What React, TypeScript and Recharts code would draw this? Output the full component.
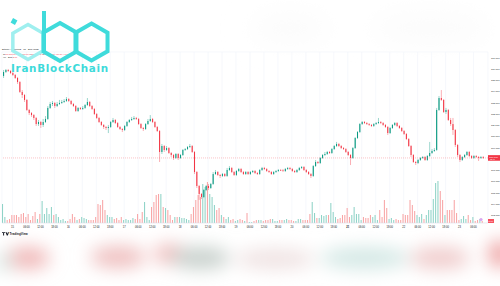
import React from 'react';
import { ComposedChart, Bar, Cell, XAxis, YAxis, CartesianGrid, ReferenceLine } from 'recharts';

// BTCUSDT 1h candles (open of each candle = previous close)
const firstOpen = 115380;
const closes = [
  115730, 115910, 115820, 115640, 115470, 115200, 114840, 113960, 113690, 113250,
  112360, 112090, 111910, 111650, 111110, 111290, 111030, 111290, 111560, 112540,
  112890, 112980, 112710, 112890, 112980, 113070, 113160, 113330, 113160, 112890,
  112710, 112270, 112540, 112450, 112540, 112800, 113070, 112710, 112450, 112000,
  111650, 111290, 111030, 110850, 110760, 110850, 111290, 111470, 111200, 110850,
  110670, 110580, 110940, 111290, 111470, 111560, 111650, 111560, 111110, 110760,
  110670, 111110, 111380, 111560, 111290, 110850, 110490, 108630, 109160, 108810,
  108980, 108540, 108360, 108100, 108450, 108100, 108360, 108810, 108890, 109070,
  109160, 108630, 106850, 105610, 104900, 104630, 105250, 105610, 105430, 105790,
  106670, 106850, 106590, 106500, 106670, 106500, 107030, 107210, 106850, 106590,
  106940, 107120, 106850, 106670, 106850, 106670, 106850, 106940, 106760, 106670,
  107030, 107210, 107120, 106940, 106850, 106670, 106850, 106940, 107030, 107000,
  106940, 107120, 107210, 107120, 106940, 106850, 107030, 107210, 107300, 107030,
  106850, 106670, 106500, 107380, 107740, 107650, 108100, 108360, 108450, 108630,
  108540, 108890, 109160, 109340, 109160, 108980, 108890, 108630, 108360, 108100,
  108980, 109870, 110400, 111110, 111290, 111200, 111110, 111030, 110940, 111110,
  111200, 111290, 111200, 111030, 110850, 110310, 110760, 111030, 111200, 110940,
  110760, 110490, 110230, 109780, 109160, 108360, 107740, 107650, 107920, 108100,
  108180, 107920, 108270, 108540, 108720, 108810, 112360, 113420, 113250, 112180,
  112360, 111470, 111110, 110580, 109250, 108360, 107920, 108180, 108360, 108630,
  108270, 108100, 108270, 108180, 108100, 108180, 108100,
];
const highs = [
  115910, 116000, 116000, 115910, 115730, 115550, 115290, 114930, 114130, 113780,
  113330, 112450, 112180, 112000, 111740, 111470, 111380, 111560, 111820, 112710,
  113070, 113160, 113070, 113070, 113250, 113250, 113330, 113510, 113420, 113250,
  112980, 112800, 112620, 112620, 112710, 112890, 113420, 113160, 112800, 112540,
  112090, 111740, 111380, 111110, 110940, 111030, 111380, 111650, 111560, 111290,
  110940, 110760, 111030, 111380, 111560, 111740, 111820, 111740, 111650, 111200,
  110850, 111200, 111560, 111910, 111650, 111380, 110940, 110580, 109340, 109250,
  109160, 109070, 108630, 108450, 108540, 108540, 108450, 108890, 108980, 109160,
  109340, 109250, 108720, 106940, 105700, 104990, 105340, 105700, 105790, 105880,
  106850, 107030, 106940, 106670, 106760, 106760, 107210, 107380, 107300, 106940,
  107030, 107210, 107210, 106940, 106940, 106940, 106940, 107030, 107030, 106850,
  107120, 107300, 107300, 107210, 107030, 106940, 106940, 107030, 107120, 107120,
  107120, 107210, 107300, 107300, 107210, 107030, 107120, 107300, 107380, 107380,
  107120, 106940, 106760, 107470, 107920, 107830, 108180, 108450, 108630, 108720,
  108720, 108980, 109250, 109520, 109430, 109250, 109070, 108980, 108720, 108450,
  109070, 109960, 110490, 111200, 111380, 111380, 111290, 111200, 111110, 111200,
  111290, 111650, 111380, 111290, 111110, 110940, 110850, 111110, 111290, 111290,
  111030, 110850, 110580, 110310, 109870, 109250, 108450, 107830, 108010, 108180,
  108270, 108270, 108360, 109520, 108890, 108980, 112540, 113600, 114130, 113330,
  112540, 112450, 111650, 111650, 110670, 109340, 108450, 108270, 108450, 108720,
  108720, 108360, 108360, 108360, 108270, 108270, 108270,
];
const lows = [
  115200, 115640, 115730, 115550, 115380, 115110, 114670, 113870, 113420, 113070,
  112270, 111910, 111740, 111470, 110940, 110940, 110760, 110850, 111200, 111470,
  112450, 112710, 112540, 112620, 112800, 112890, 112980, 113070, 113070, 112800,
  112620, 112180, 112180, 112360, 112360, 112450, 112710, 112620, 112360, 111910,
  111560, 111200, 110940, 110670, 110580, 110310, 110760, 111200, 111110, 110760,
  110580, 110400, 110490, 110850, 111200, 111380, 111470, 111470, 111030, 110670,
  110490, 110580, 111030, 111290, 111200, 110760, 110400, 107740, 108450, 108630,
  108720, 108450, 108180, 107920, 108010, 107920, 108010, 108270, 108720, 108810,
  108980, 108540, 106670, 105430, 104370, 104450, 104540, 105160, 105250, 105340,
  105700, 106590, 106500, 106320, 106410, 106410, 106410, 106940, 106760, 106500,
  106500, 106850, 106760, 106590, 106590, 106590, 106590, 106760, 106670, 106590,
  106590, 106940, 107030, 106850, 106760, 106590, 106590, 106760, 106850, 106940,
  106850, 106850, 107030, 107030, 106850, 106760, 106760, 106940, 107120, 106940,
  106760, 106590, 106320, 106410, 107300, 107560, 107560, 108010, 108270, 108360,
  108450, 108450, 108810, 109070, 109070, 108890, 108810, 108540, 108270, 107470,
  108010, 108890, 109780, 110310, 111030, 111110, 111030, 110940, 110850, 110850,
  111030, 111110, 111110, 110940, 110760, 110140, 110230, 110670, 110940, 110850,
  110670, 110400, 110140, 109690, 109070, 108180, 107650, 107470, 107560, 107830,
  108010, 107830, 107830, 108180, 108450, 108630, 108720, 112270, 113160, 112090,
  112000, 111380, 110940, 110140, 109070, 108180, 107740, 107830, 108090, 108270,
  108180, 108010, 108010, 108100, 107830, 108010, 108010,
];
const volumes = [
  1900, 600, 300, 400, 800, 800, 800, 600, 900, 1000,
  600, 900, 300, 700, 1100, 400, 900, 2200, 900, 1500,
  900, 1600, 800, 900, 600, 300, 400, 200, 200, 400,
  900, 600, 300, 400, 600, 500, 400, 300, 300, 300,
  600, 1900, 1800, 2300, 1300, 800, 600, 600, 400, 500,
  300, 600, 300, 400, 300, 300, 500, 400, 900, 400,
  1100, 2100, 600, 300, 1600, 2100, 2800, 2900, 2900, 1600,
  1500, 1300, 800, 300, 600, 600, 600, 500, 500, 400,
  300, 900, 1600, 2300, 2800, 2600, 3900, 3600, 4100, 2900,
  2600, 1800, 1300, 1500, 800, 600, 400, 600, 300, 400,
  200, 300, 400, 300, 200, 1000, 100, 100, 200, 300,
  300, 300, 200, 300, 300, 400, 400, 200, 200, 300,
  300, 300, 400, 300, 300, 200, 200, 400, 400, 300,
  300, 300, 900, 2100, 1000, 500, 500, 800, 700, 800,
  800, 2000, 1100, 600, 400, 500, 800, 800, 1500, 600,
  800, 1600, 900, 900, 300, 600, 500, 500, 800, 600,
  800, 300, 1300, 600, 2300, 1500, 400, 500, 300, 400,
  300, 300, 900, 800, 800, 2300, 1800, 1200, 800, 600,
  900, 400, 800, 1300, 1300, 2400, 4000, 4200, 3200, 2300,
  800, 1300, 1300, 1300, 2300, 1000, 300, 400, 700, 400,
  800, 300, 600, 200, 300, 400, 200,
];

// time axis: a label every 6 candles, starting at candle 4 (00:00)
const timeLabels = [
  '15', '06:00', '12:00', '18:00', '16', '06:00', '12:00', '18:00',
  '17', '06:00', '12:00', '18:00', '18', '06:00', '12:00', '18:00',
  '19', '06:00', '12:00', '18:00', '20', '06:00', '12:00', '18:00',
  '21', '06:00', '12:00', '18:00', '22', '06:00', '12:00', '18:00',
  '23', '06:00',
];
const boldLabel = '21';
const priceTicks = [
  103000, 103500, 104000, 104500, 105000, 105500, 106000, 106500, 107000, 107500,
  108000, 108500, 109000, 109500, 110000, 110500, 111000, 111500, 112000, 112500,
  113000, 113500, 114000, 114500, 115000, 115500, 116000, 116500, 117000,
];

const UP = '#089981';
const DOWN = '#f23645';

const data = closes.map((c, i) => ({
  i,
  open: i === 0 ? firstOpen : closes[i - 1],
  close: c,
  high: highs[i],
  low: lows[i],
  volume: volumes[i],
}));
const tickIdx = timeLabels.map((_, k) => 4 + k * 6);
const last = data[data.length - 1];

const fmt = (v: number) => v.toLocaleString('en-US');
// the last-price tag covers the tick label right under it
const fmtAxis = (v: number) => (Math.abs(v - last.close) < 300 ? '' : fmt(v));

const Candle = (props: any) => {
  const { x, y, width, height, payload } = props;
  if (!payload) return null;
  const { open, close, high, low } = payload;
  const top = Math.min(y, y + height);
  const h = Math.abs(height);
  const color = close >= open ? UP : DOWN;
  const r = h / (high - low || 1);
  const bTop = top + (high - Math.max(open, close)) * r;
  const bH = Math.max(Math.abs(open - close) * r, 0.7);
  const cx = x + width / 2;
  return (
    <g>
      <line x1={cx} x2={cx} y1={top} y2={top + h} stroke={color} strokeWidth={0.5} strokeOpacity={0.8} />
      <rect x={x} y={bTop} width={width} height={bH} fill={color} />
    </g>
  );
};

const TimeTick = (props: any) => {
  const { x, y, payload } = props;
  const k = tickIdx.indexOf(payload.value);
  const label = timeLabels[k] ?? '';
  return (
    <text x={x} y={y + 3.2} textAnchor="middle" fontSize={2.6} fill="#131722"
      fontWeight={label === boldLabel ? 700 : 400} fontFamily="Liberation Sans">
      {label}
    </text>
  );
};

const PriceTag = (props: any) => {
  const { viewBox } = props;
  const y = viewBox.y;
  return (
    <g>
      <rect x={488} y={y - 2.8} width={12} height={5.6} fill={DOWN} />
      <text x={489.2} y={y + 0.2} fontSize={2.4} fill="#fff" fontFamily="Liberation Sans">{fmt(last.close)}</text>
      <text x={490} y={y + 2.4} fontSize={1.9} fill="#fff" fontFamily="Liberation Sans">12:41</text>
    </g>
  );
};

const VolTag = (props: any) => {
  const { viewBox } = props;
  const y = viewBox.y;
  return (
    <g>
      <rect x={488} y={y - 2} width={6} height={4} fill="#f7525f" />
      <text x={488.5} y={y + 0.9} fontSize={2.3} fill="#fff" fontFamily="Liberation Sans">{(last.volume / 100).toFixed(1)}K</text>
    </g>
  );
};

const hex = (cx: number, cy: number, r: number) =>
  [-90, -30, 30, 90, 150, 210]
    .map((a) => `${cx + r * Math.cos((a * Math.PI) / 180)},${cy + r * Math.sin((a * Math.PI) / 180)}`)
    .join(' ');

export default function App() {
  return (
    <div style={{ position: 'absolute', left: 0, top: 0, width: 500, height: 286, background: '#fff', overflow: 'hidden' }}>
      <ComposedChart width={500} height={232} data={data} margin={{ top: 52, right: 0, left: 2, bottom: 0 }} barGap={0}>
        <CartesianGrid stroke="#f0f3fa" strokeWidth={0.6} />
        <XAxis dataKey="i" type="category" ticks={tickIdx} interval={0} tick={<TimeTick />} tickSize={0}
          tickLine={false} axisLine={{ stroke: '#e0e3eb', strokeWidth: 0.5 }} height={9} padding={{ left: 0, right: 4 }} />
        <YAxis yAxisId="price" orientation="right" domain={[102323, 117507]} ticks={priceTicks} width={12} tickSize={1}
          tick={{ fontSize: 2.4, fill: '#131722', fontFamily: 'Liberation Sans' }} tickFormatter={fmtAxis}
          tickLine={false} axisLine={false} allowDataOverflow />
        <YAxis yAxisId="vol" hide domain={[0, 17100]} allowDataOverflow />
        <Bar yAxisId="vol" dataKey="volume" barSize={2} isAnimationActive={false}>
          {data.map((d) => (
            <Cell key={d.i} fill={d.close >= d.open ? '#8fd3c7' : '#f8a5a6'} />
          ))}
        </Bar>
        <Bar yAxisId="price" dataKey={(d: any) => [d.low, d.high]} barSize={1.6} shape={<Candle />} isAnimationActive={false} />
        <ReferenceLine yAxisId="price" y={last.close} stroke={DOWN} strokeOpacity={0.6} strokeWidth={0.5}
          strokeDasharray="1 1" label={<PriceTag />} />
        <ReferenceLine yAxisId="vol" y={last.volume} stroke="none" label={<VolTag />} />
      </ComposedChart>

      <svg width={500} height={286} style={{ position: 'absolute', left: 0, top: 0 }}>
        <defs>
          <filter id="blur" x="-50%" y="-100%" width="200%" height="300%">
            <feGaussianBlur stdDeviation="9" />
          </filter>
          <filter id="blur2" x="-50%" y="-100%" width="200%" height="300%">
            <feGaussianBlur stdDeviation="14" />
          </filter>
        </defs>
        {/* very faint blurred shapes at the top */}
        <g filter="url(#blur2)">
          <ellipse cx={290} cy={28} rx={40} ry={14} fill="#fbfbfb" />
          <ellipse cx={430} cy={28} rx={60} ry={14} fill="#fbfbfb" />
        </g>
        {/* header */}
        <text x={2} y={50} fontSize={2.4} fill="#131722" fontFamily="Liberation Sans">Bitcoin / TetherUS · 1h · BINANCE</text>
        <text x={3} y={54.5} fontSize={2.2} fill="#131722" fontFamily="Liberation Sans">
          O<tspan fill={DOWN}>108,180.00</tspan> H<tspan fill={DOWN}>108,270.00</tspan> L<tspan fill={DOWN}>108,010.00</tspan> C<tspan fill={DOWN}>108,100.00 −80.00 (−0.07%)</tspan>
        </text>
        <text x={3} y={58} fontSize={2.2} fill="#131722" fontFamily="Liberation Sans">Vol · BTC <tspan fill={DOWN}>2.00</tspan></text>

        {/* logo */}
        <g fill="none" strokeLinejoin="miter">
          <polygon points={hex(28, 42, 17.5)} stroke="#9fefef" strokeWidth={3.5} />
          <polygon points={hex(60, 42, 19)} stroke="#3fdbdb" strokeWidth={4} />
          <polygon points={hex(91.5, 42, 18.5)} stroke="#3fdbdb" strokeWidth={4} />
          <line x1={44} y1={11} x2={44} y2={52} stroke="#3fdbdb" strokeWidth={4} />
          <rect x={11.5} y={19} width={5} height={5} fill="#3fdbdb" transform="rotate(30 14 21.5)" />
        </g>
        <text x={11} y={71.5} fontSize={10.4} fontWeight={700} fill="#3ddada" fontFamily="DejaVu Sans" letterSpacing={0.7}>IranBlockChain</text>

        {/* watermark */}
        <path d="M2 232.2 h3.2 v0.9 h-1.1 v2.4 h-1 v-2.4 h-1.1 z M5.6 232.2 h1.1 l0.6 1.7 l0.6 -1.7 h1.1 l-1.2 3.3 h-1 z" fill="#131722" />
        <text x={9.6} y={235.3} fontSize={3.1} fontWeight={700} fill="#131722" fontFamily="Liberation Sans">TradingView</text>
        <circle cx={481} cy={219.5} r={1.6} fill="#d9a6f0" />

        {/* blurred reflection */}
        <g filter="url(#blur)">
          <ellipse cx={28} cy={258} rx={22} ry={11} fill="#f0b8b8" />
          <ellipse cx={4} cy={262} rx={8} ry={10} fill="#d6e6e2" />
          <ellipse cx={118} cy={257} rx={28} ry={11} fill="#efc0c0" />
          <ellipse cx={170} cy={254} rx={16} ry={10} fill="#f1b9b9" />
          <ellipse cx={200} cy={258} rx={30} ry={11} fill="#c8d0cc" />
          <ellipse cx={275} cy={259} rx={40} ry={10} fill="#efe2e2" />
          <ellipse cx={365} cy={258} rx={45} ry={11} fill="#d4e8e5" />
          <ellipse cx={440} cy={258} rx={30} ry={11} fill="#f0cccc" />
          <ellipse cx={500} cy={254} rx={12} ry={14} fill="#eea6a6" />
        </g>
      </svg>
    </div>
  );
}
